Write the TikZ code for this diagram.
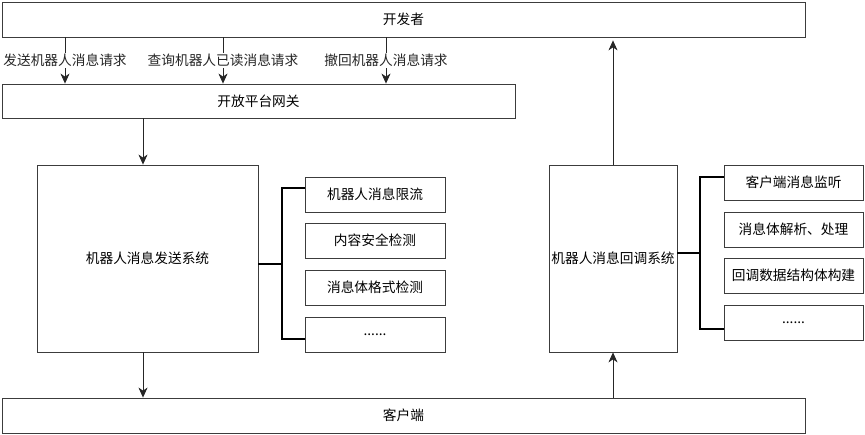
\documentclass[tikz,border=0pt]{standalone}
\usepackage{fontspec}
\newfontfamily\cjk{Noto Sans CJK SC}
\usepackage{tikz}
\usetikzlibrary{arrows.meta, positioning, calc}
\definecolor{edgecol}{RGB}{60,60,60}

\begin{document}
\begin{tikzpicture}[
  x=1pt, y=-1pt,
  font=\cjk\fontsize{13.7}{16}\selectfont,
  box/.style={draw=edgecol, line width=0.8pt, fill=white, inner sep=0pt,
              align=center},
  wide/.style={box, minimum height=35pt},
  sys/.style={box, minimum height=187pt},
  sub/.style={box, minimum width=140pt, minimum height=35pt},
  arr/.style={-{Stealth[length=10pt,width=9pt,inset=3pt]}, line width=0.8pt, black!85},
  brk/.style={line width=1.8pt, black},
  lbl/.style={fill=white, inner sep=1.5pt}
]
  \useasboundingbox (0,0) rectangle (865,435);

  \node[wide, minimum width=803pt] (dev) at (403.5,19.5) {开发者};
  \node[wide, minimum width=513pt, minimum height=34pt] (gw) at (258.5,101)
    {开放平台网关};
  \node[sys, minimum width=221pt] (send) at (147.5,258.5) {机器人消息发送系统};
  \node[sys, minimum width=128pt] (cb) at (613,258.5) {机器人消息回调系统};
  \node[wide, minimum width=803pt] (client) at (403.5,415.5) {客户端};

  % send side checks
  \node[sub] (ls1) at (375,194.5) {机器人消息限流};
  \node[sub] (ls2) at (375,240.5) {内容安全检测};
  \node[sub] (ls3) at (375,287.5) {消息体格式检测};
  \node[sub] (ls4) at (375,334.5) {......};

  % callback side steps
  \node[sub, minimum width=139pt] (rs1) at (793.5,182.5) {客户端消息监听};
  \node[sub, minimum width=139pt] (rs2) at (793.5,229.5) {消息体解析、处理};
  \node[sub, minimum width=139pt] (rs3) at (793.5,275.5) {回调数据结构体构建};
  \node[sub, minimum width=139pt] (rs4) at (793.5,322.5) {......};

  \coordinate (r1) at (65,0);
  \coordinate (r2) at (223,0);
  \coordinate (r3) at (386,0);
  \coordinate (down) at (143,0);
  \coordinate (lsp) at (282,0);
  \coordinate (rsp) at (700,0);

  \draw[arr] (dev.south -| r1) -- node[lbl] {发送机器人消息请求} (gw.north -| r1);
  \draw[arr] (dev.south -| r2) -- node[lbl] {查询机器人已读消息请求} (gw.north -| r2);
  \draw[arr] (dev.south -| r3) -- node[lbl] {撤回机器人消息请求} (gw.north -| r3);

  \draw[arr] (gw.south -| down) -- (send.north -| down);
  \draw[arr] (send.south -| down) -- (client.north -| down);
  \draw[arr] (client.north -| cb) -- (cb.south);
  \draw[arr] (cb.north) -- ([yshift=-3pt]dev.south -| cb);

  \draw[brk] ([yshift=-5.5pt]send.east) -- ([yshift=-5.5pt]send.east -| lsp);
  \draw[brk] ([yshift=6.5pt]ls1.west) -- ([yshift=6.5pt]ls1.west -| lsp)
    -- ([yshift=-4.5pt]ls4.west -| lsp) -- ([yshift=-4.5pt]ls4.west);
  \draw[brk] ([yshift=5.5pt]cb.east) -- ([yshift=5.5pt]cb.east -| rsp);
  \draw[brk] ([yshift=5.5pt]rs1.west) -- ([yshift=5.5pt]rs1.west -| rsp)
    -- ([yshift=-6.5pt]rs4.west -| rsp) -- ([yshift=-6.5pt]rs4.west);
\end{tikzpicture}
\end{document}
